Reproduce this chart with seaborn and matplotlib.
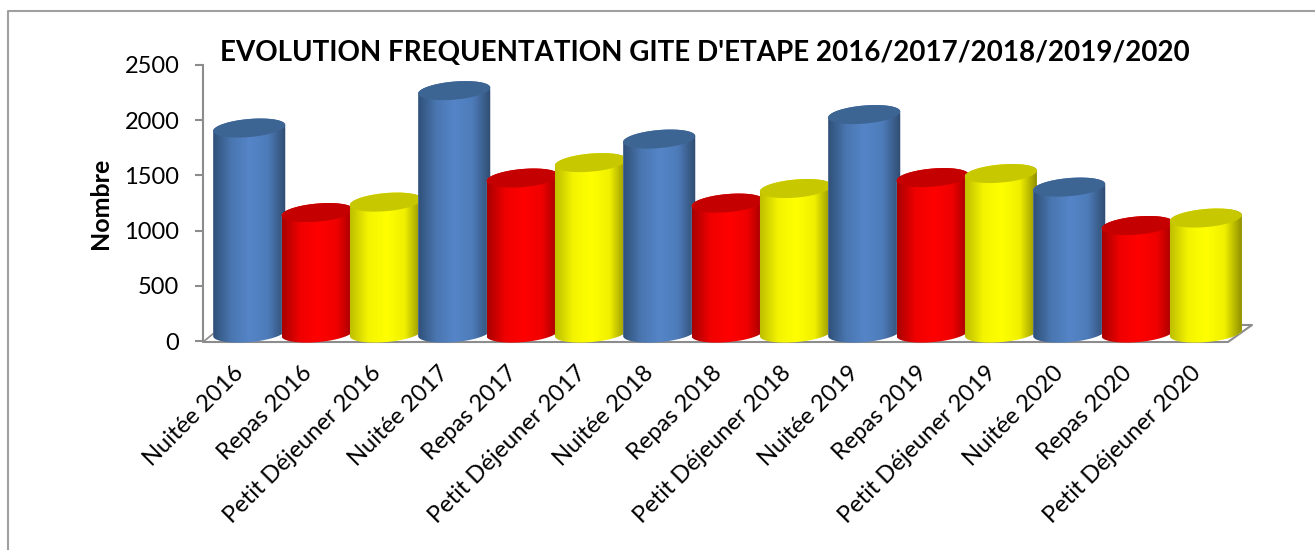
"""Fréquentation du gîte d'étape, 2016 à 2020, en cylindres façon tableur."""

import matplotlib

matplotlib.use("Agg")

import matplotlib.pyplot as plt
import numpy as np
import pandas as pd
import seaborn as sns
from matplotlib.colors import LinearSegmentedColormap
from matplotlib.lines import Line2D
from matplotlib.patches import PathPatch
from matplotlib.path import Path
from matplotlib.transforms import ScaledTranslation

LABELS = [
    "Nuitée 2016", "Repas 2016", "Petit Déjeuner 2016",
    "Nuitée 2017", "Repas 2017", "Petit Déjeuner 2017",
    "Nuitée 2018", "Repas 2018", "Petit Déjeuner 2018",
    "Nuitée 2019", "Repas 2019", "Petit Déjeuner 2019",
    "Nuitée 2020", "Repas 2020", "Petit Déjeuner 2020",
]
KINDS = ["Nuitée", "Repas", "Petit Déjeuner"] * 5
VALUES = [1857, 1091, 1186, 2196, 1404, 1544, 1757, 1177, 1309, 1979, 1408, 1445, 1322, 974, 1042]
Y_TICKS = [0, 500, 1000, 1500, 2000, 2500]
TITLE = "EVOLUTION FREQUENTATION GITE D'ETAPE 2016/2017/2018/2019/2020"

BASE_COLORS = {"Nuitée": "#5585C8", "Repas": "#FF0000", "Petit Déjeuner": "#FFFF00"}
TOP_COLORS = {"Nuitée": "#3D6594", "Repas": "#C40000", "Petit Déjeuner": "#C8C800"}
SHADES = {
    "Nuitée": ["#2F5078", "#4A76B0", "#5585C8", "#4E7CBA", "#2F4C70"],
    "Repas": ["#A80000", "#F00000", "#FF0000", "#F00000", "#980000"],
    "Petit Déjeuner": ["#BEBE00", "#F4F400", "#FFFF00", "#F0F000", "#8A8A00"],
}
GREY = "#8C8C8C"

WIDTH_PX, HEIGHT_PX = 1315, 550
AX_LEFT, AX_RIGHT, AX_TOP, AX_BOTTOM = 203, 1228, 65, 341
DEPTH_X = 0.176  # decalage de la profondeur 3D, en categories
DEPTH_Y = 72  # idem, en unites de y
CAP_B = 82
CAP_TILT = 27


def cylinder_outline(bar):
    """Return the silhouette of a cylinder and the polygon of its top cap."""
    a = bar.get_width() / 2
    cx = bar.get_x() + a
    low = bar.get_y()
    top = low + bar.get_height()
    t = np.linspace(0, 2 * np.pi, 120)
    cap = np.column_stack([cx + a * np.cos(t), top + CAP_B * np.sin(t) + CAP_TILT * np.cos(t)])
    upper = np.linspace(np.pi, 0, 60)
    lower = np.linspace(0, -np.pi, 60)
    side = np.vstack([
        np.column_stack([cx + a * np.cos(upper), top + CAP_B * np.sin(upper) + CAP_TILT * np.cos(upper)]),
        np.column_stack([cx + a * np.cos(lower), low + CAP_B * np.sin(lower) + CAP_TILT * np.cos(lower)]),
    ])
    return Path(side, closed=False), Path(cap, closed=False)


def add_chrome_line(ax, xs_px, ys_px, color=GREY, lw=1.5):
    """Draw a line given in figure pixels, behind the cylinders."""
    ax.add_line(Line2D(
        np.array(xs_px) / WIDTH_PX,
        1 - np.array(ys_px) / HEIGHT_PX,
        transform=ax.figure.transFigure,
        color=color,
        lw=lw,
        clip_on=False,
        zorder=1,
    ))


sns.set_theme(style="white")
plt.rcParams["font.family"] = ["Lato", "DejaVu Sans"]

fig = plt.figure(figsize=(WIDTH_PX / 100, HEIGHT_PX / 100), dpi=100)
ax = fig.add_axes([
    AX_LEFT / WIDTH_PX,
    1 - AX_BOTTOM / HEIGHT_PX,
    (AX_RIGHT - AX_LEFT) / WIDTH_PX,
    (AX_BOTTOM - AX_TOP) / HEIGHT_PX,
])

data = pd.DataFrame({"label": LABELS, "kind": KINDS, "value": VALUES})
sns.barplot(
    data=data, x="label", y="value", hue="kind", palette=BASE_COLORS,
    dodge=False, width=1.054, legend=False, ax=ax,
)
ax.set_xlim(-0.5, 14.5)
ax.set_ylim(0, 2500)
ax.set_autoscale_on(False)

bars = sorted((p for p in ax.patches if p.get_height() > 0), key=lambda p: p.get_x())
for idx, (bar, kind) in enumerate(zip(bars, KINDS)):
    bar.set_x(bar.get_x() + DEPTH_X)
    bar.set_y(DEPTH_Y)
    bar.set_zorder(3 + idx)
    side_path, cap_path = cylinder_outline(bar)
    clip = PathPatch(side_path, transform=ax.transData)

    bar.set_clip_path(clip)
    bar.set_clip_box(fig.bbox)

    cmap = LinearSegmentedColormap.from_list(kind, SHADES[kind])
    im = ax.imshow(
        np.linspace(0, 1, 256).reshape(1, -1),
        cmap=cmap,
        aspect="auto",
        interpolation="bilinear",
        extent=(bar.get_x(), bar.get_x() + bar.get_width(), -60, bar.get_height() + DEPTH_Y + CAP_B + CAP_TILT),
        zorder=3 + idx,
    )
    im.set_clip_path(clip)
    im.set_clip_box(fig.bbox)

    ax.add_patch(PathPatch(cap_path, facecolor=TOP_COLORS[kind], edgecolor="none", zorder=3 + idx, clip_on=False))

ax.set_xlim(-0.5, 14.5)
ax.set_ylim(0, 2500)
sns.despine(ax=ax, top=True, right=True, bottom=True)
ax.spines["left"].set_color(GREY)
ax.spines["left"].set_linewidth(1.5)
ax.set_yticks(Y_TICKS)
ax.set_xticks(range(len(LABELS)))
ax.set_xticklabels(LABELS, rotation=45, ha="right", rotation_mode="anchor", fontsize=17, color="black")
ax.tick_params(axis="y", which="major", left=True, length=6, width=1.5, color=GREY, labelsize=17, labelcolor="black", pad=11)
ax.tick_params(axis="x", which="major", bottom=False, length=0, pad=15)
label_shift = ScaledTranslation(-4 / 100, 0, fig.dpi_scale_trans)
for tick_label in ax.get_xticklabels():
    tick_label.set_transform(tick_label.get_transform() + label_shift)
ax.set_xlabel("")
ax.set_ylabel("")
ax.grid(False)
ax.patch.set_alpha(0)

# plancher du graphique et cadre exterieur, en pixels de la figure
add_chrome_line(ax, [203, 1228, 1252, 1228], [342, 342, 325, 325])
add_chrome_line(ax, [203, 214], [342, 333], lw=1.2)
add_chrome_line(ax, [8, 8, 1315], [550, 11, 11], color="#A0A0A0")

fig.text(705 / WIDTH_PX, 1 - 53 / HEIGHT_PX, TITLE, ha="center", va="center", fontsize=20, fontweight="bold", color="black")
fig.text(100 / WIDTH_PX, 1 - 203 / HEIGHT_PX, "Nombre", rotation=90, ha="center", va="center", fontsize=18, fontweight="bold", color="black")

fig.savefig("out.png", dpi=100)
plt.close(fig)
